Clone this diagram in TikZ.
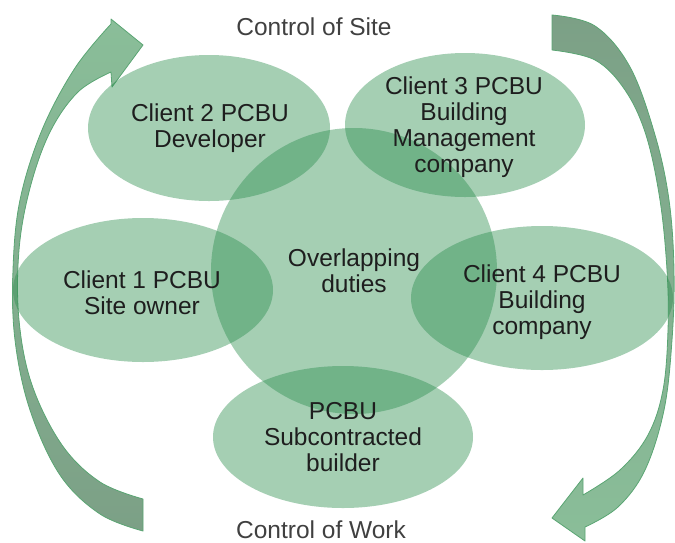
\documentclass[tikz,border=0pt]{standalone}
\usepackage{fontspec}
\setmainfont{Liberation Sans}
\usetikzlibrary{shapes.geometric}
\definecolor{blobfill}{RGB}{40,140,75}
\definecolor{arrline}{RGB}{90,165,115}
\definecolor{arrlight}{RGB}{138,190,153}
\definecolor{arrdark}{RGB}{124,160,134}
\definecolor{txt}{RGB}{30,30,30}
\definecolor{ctltxt}{RGB}{64,64,64}
\begin{document}
\begin{tikzpicture}[x=1pt,y=-1pt,
 blob/.style={ellipse, draw=none, fill=blobfill, fill opacity=0.42, inner sep=0pt},
 lbl/.style={align=center, text=txt, font=\fontsize{24.5}{26}\selectfont},
 ctl/.style={anchor=base, text=ctltxt, font=\fontsize{24.5}{26}\selectfont},
 arrowband/.style={draw=arrline, line width=0.8pt, line join=round}]
\useasboundingbox (0,0) rectangle (675,542);

% left curved arrow (Control of Work -> Control of Site)
\path[arrowband, top color=arrlight, bottom color=arrdark]
 plot[smooth, tension=0.6] coordinates {(143,531) (100,514) (60,475) (30,410) (15,340) (13,270) (20,200) (42,130) (75,68) (111,24)}
 -- (111,19) -- (143,45) -- (112,87) -- (111,72)
 -- plot[smooth, tension=0.6] coordinates {(111,72) (78,92) (50,132) (30,188) (19,250) (19,320) (32,385) (62,445) (100,482) (143,499)} -- cycle;

% right curved arrow (Control of Site -> Control of Work)
\path[arrowband, top color=arrdark, bottom color=arrlight]
 plot[smooth, tension=0.6] coordinates {(552,15) (595,26) (630,67) (655,135) (669,200) (674,270) (672,340) (664,410) (645,470) (618,507) (585,527)}
 -- (585,541) -- (552,518) -- (583,478) -- (583,495)
 -- plot[smooth, tension=0.6] coordinates {(583,495) (620,470) (648,435) (663,390) (668,330) (667,270) (660,200) (646,135) (625,90) (595,60) (552,50)} -- cycle;

% ellipses
\node[blob, minimum width=242, minimum height=146] (c2) at (209,128) {};
\node[blob, minimum width=240, minimum height=144] (c3) at (465,125) {};
\node[blob, minimum width=260, minimum height=144] (c1) at (143,290) {};
\node[blob, minimum width=262, minimum height=144] (c4) at (542,298) {};
\node[blob, minimum width=260, minimum height=142] (c5) at (343,437) {};
\node[blob, circle, minimum size=286] (mid) at (354,271) {};

% labels
\node[lbl] (t2) at (210,128) {Client 2 PCBU\\Developer};
\node[lbl] (t3) at (464,127) {Client 3 PCBU\\Building\\Management\\company};
\node[lbl] (t1) at (142,293) {Client 1 PCBU\\Site owner};
\node[lbl] (t4) at (542,302) {Client 4 PCBU\\Building\\company};
\node[lbl] (t5) at (343,437) {PCBU\\Subcontracted\\builder};
\node[lbl] (tm) at (354,271) {Overlapping\\duties};
\node[ctl] (ctop) at (314,35) {Control of Site};
\node[ctl] (cbot) at (321,538) {Control of Work};
\end{tikzpicture}
\end{document}
